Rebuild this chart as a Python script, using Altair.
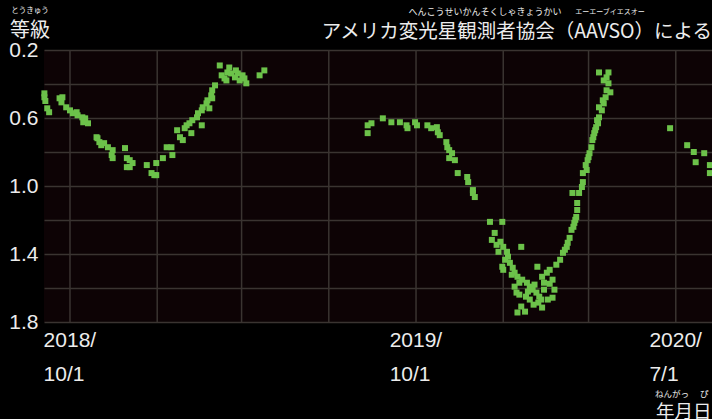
import altair as alt
import pandas as pd

# AAVSO visual magnitude estimates (date, magnitude)
obs_dates = [
    "2018-10-05", "2018-10-05", "2018-10-06", "2018-10-08", "2018-10-10",
    "2018-10-21", "2018-10-24", "2018-10-23", "2018-10-28", "2018-11-01",
    "2018-11-04", "2018-11-08", "2018-11-09", "2018-11-14", "2018-11-17",
    "2018-11-15", "2018-11-20", "2018-11-29", "2018-11-30", "2018-12-02",
    "2018-12-04", "2018-12-07", "2018-12-11", "2018-12-16", "2018-12-15",
    "2018-12-16", "2018-12-29", "2018-12-31", "2019-01-03", "2018-12-31",
    "2019-01-03", "2019-01-06", "2019-01-21", "2019-01-26", "2019-01-31",
    "2019-01-31", "2019-01-29", "2019-02-07", "2019-02-11", "2019-02-16",
    "2019-02-17", "2019-02-22", "2019-02-25", "2019-02-28", "2019-03-02",
    "2019-03-04", "2019-03-07", "2019-03-09", "2019-03-10", "2019-03-15",
    "2019-03-16", "2019-03-20", "2019-03-20", "2019-03-21", "2019-03-25",
    "2019-03-26", "2019-03-28", "2019-03-30", "2019-03-31", "2019-03-31",
    "2019-04-03", "2019-04-08", "2019-04-10", "2019-04-13", "2019-04-18",
    "2019-04-20", "2019-04-24", "2019-04-27", "2019-04-29", "2019-05-02",
    "2019-05-06", "2019-05-20", "2019-05-25", "2019-04-16", "2019-04-25",
    "2019-05-04", "2019-04-15",
    "2019-09-11", "2019-09-11", "2019-09-15", "2019-09-27", "2019-10-06",
    "2019-10-15", "2019-10-22", "2019-10-23", "2019-10-31", "2019-11-02",
    "2019-11-13", "2019-11-17", "2019-11-23", "2019-11-24", "2019-11-26",
    "2019-12-03", "2019-12-04", "2019-12-06", "2019-12-09", "2019-12-06",
    "2019-12-12", "2019-12-15", "2019-12-25", "2019-12-26", "2019-12-31",
    "2019-12-31", "2020-01-02", "2020-01-18", "2020-01-31", "2020-01-23",
    "2020-01-20", "2020-01-29", "2020-02-01", "2020-02-05", "2020-02-06",
    "2020-02-20", "2020-01-31", "2020-02-01", "2020-02-08", "2020-02-11",
    "2020-02-13", "2020-02-16", "2020-02-21", "2020-02-26", "2020-02-29",
    "2020-03-03", "2020-03-07", "2020-03-10", "2020-03-12", "2020-03-08",
    "2020-03-13", "2020-03-18", "2020-03-21", "2020-03-24", "2020-03-26",
    "2020-03-24", "2020-03-13", "2020-02-13", "2020-02-15", "2020-02-20",
    "2020-02-16", "2020-02-24", "2020-02-03", "2020-02-10", "2020-02-18",
    "2020-02-27", "2020-03-05", "2020-03-15", "2020-03-19", "2020-02-29",
    "2020-02-25", "2020-03-09", "2020-03-15", "2020-03-21", "2020-01-27",
    "2020-01-25", "2020-03-04", "2020-02-18",
    "2020-03-28", "2020-04-01", "2020-04-04", "2020-04-08", "2020-04-11",
    "2020-04-13", "2020-04-16", "2020-04-18", "2020-04-19", "2020-04-19",
    "2020-04-21", "2020-04-14", "2020-04-24", "2020-04-25", "2020-04-25",
    "2020-04-29", "2020-04-30", "2020-05-02", "2020-05-04", "2020-05-05",
    "2020-05-07", "2020-05-09", "2020-05-10", "2020-05-12", "2020-05-12",
    "2020-05-15", "2020-05-17", "2020-05-19", "2020-05-20", "2020-05-22",
    "2020-05-24", "2020-05-20", "2020-05-12", "2020-05-22", "2020-05-17",
    "2020-04-06", "2020-04-09", "2020-04-15", "2020-04-17", "2020-04-28",
    "2020-05-01", "2020-05-06", "2020-05-08", "2020-05-11", "2020-05-16",
    "2020-07-26", "2020-08-13", "2020-08-20", "2020-08-31", "2020-08-22",
    "2020-09-06", "2020-09-06",
]
obs_mags = [
    0.455, 0.478, 0.500, 0.543, 0.566,
    0.484, 0.478, 0.508, 0.537, 0.555,
    0.572, 0.566, 0.584, 0.596, 0.602,
    0.625, 0.631, 0.713, 0.719, 0.742,
    0.760, 0.748, 0.772, 0.789, 0.818,
    0.836, 0.777, 0.836, 0.848, 0.889,
    0.889, 0.865, 0.877, 0.924, 0.865,
    0.936, 0.936, 0.836, 0.772, 0.772,
    0.818, 0.672, 0.713, 0.730, 0.660,
    0.643, 0.631, 0.689, 0.613, 0.596,
    0.572, 0.555, 0.643, 0.537, 0.514,
    0.496, 0.543, 0.467, 0.437, 0.484,
    0.408, 0.291, 0.349, 0.367, 0.303,
    0.338, 0.361, 0.338, 0.379, 0.349,
    0.396, 0.349, 0.320, 0.332, 0.320,
    0.367, 0.379,
    0.643, 0.689, 0.631, 0.602, 0.625,
    0.625, 0.643, 0.660, 0.625, 0.643,
    0.643, 0.660, 0.654, 0.684, 0.701,
    0.742, 0.772, 0.789, 0.807, 0.836,
    0.848, 0.924, 0.947, 0.977, 1.024,
    1.041, 1.065, 1.211, 1.211, 1.276,
    1.317, 1.328, 1.358, 1.387, 1.416,
    1.358, 1.475, 1.493, 1.452, 1.481,
    1.510, 1.534, 1.551, 1.569, 1.592,
    1.610, 1.627, 1.651, 1.668, 1.475,
    1.534, 1.510, 1.493, 1.551, 1.610,
    1.657, 1.715, 1.592, 1.627, 1.709,
    1.744, 1.739, 1.434, 1.522, 1.569,
    1.621, 1.580, 1.610, 1.668, 1.668,
    1.651, 1.686, 1.569, 1.575, 1.387,
    1.346, 1.698, 1.639,
    1.463, 1.434, 1.393, 1.358, 1.305,
    1.258, 1.217, 1.182, 1.141, 1.100,
    1.041, 1.041, 1.006, 0.977, 0.924,
    0.906, 0.848, 0.807, 0.772, 0.730,
    0.689, 0.654, 0.613, 0.596, 0.537,
    0.555, 0.514, 0.478, 0.437, 0.396,
    0.449, 0.361, 0.332, 0.332, 0.379,
    1.375, 1.334, 1.240, 1.199, 0.877,
    0.830, 0.713, 0.672, 0.631, 0.496,
    0.660, 0.760, 0.800, 0.807, 0.860,
    0.877, 0.924,
]

# Vertical grid dates and x-axis labels
grid_dates = ["2018-11-01", "2019-02-01", "2019-05-01", "2019-08-01",
              "2019-11-01", "2020-02-01", "2020-05-01", "2020-08-01"]
tick_dates = ["2018-10-01", "2019-10-01", "2020-07-01"]
tick_labels = ["2018/\n10/1", "2019/\n10/1", "2020/\n7/1"]
y_ticks = [0.2, 0.4, 0.6, 0.8, 1.0, 1.2, 1.4, 1.6, 1.8]

points = pd.DataFrame({"date": obs_dates, "mag": obs_mags})
grid = pd.DataFrame({"date": grid_dates})
ticks = pd.DataFrame({"date": tick_dates, "label": tick_labels})

GRID = "#3a3431"
TEXT = "#ececec"
LATIN = "Liberation Sans"
CJK = "Noto Sans CJK JP"

x_scale = alt.Scale(
    type="utc",
    domain=[alt.DateTime(year=2018, month=10, date=4, hours=14, utc=True),
            alt.DateTime(year=2020, month=9, date=8, hours=5, utc=True)],
)
y_scale = alt.Scale(domain=[0.2, 1.8], reverse=True, nice=False, zero=False)

vgrid = alt.Chart(grid).mark_rule(color=GRID, strokeWidth=1.5).encode(
    x=alt.X("date:T", scale=x_scale, axis=None)
)

dots = alt.Chart(points).mark_point(
    shape="square", filled=True, size=36, color="#6cc24a", opacity=1
).encode(
    x=alt.X("date:T", scale=x_scale, axis=None),
    y=alt.Y(
        "mag:Q",
        scale=y_scale,
        axis=alt.Axis(
            values=y_ticks,
            title=None,
            domain=False,
            ticks=False,
            grid=True,
            gridColor=GRID,
            gridWidth=1.5,
            labelExpr="(round(datum.value*5) % 2 == 1) ? format(datum.value, '.1f') : ''",
            labelFont=LATIN,
            labelFontSize=21,
            labelColor=TEXT,
            labelPadding=6,
        ),
    ),
)

xlabels = alt.Chart(ticks).mark_text(
    align="left", baseline="top", font=LATIN, fontSize=21, color=TEXT,
    lineBreak="\n", lineHeight=34, dx=3,
).encode(
    x=alt.X("date:T", scale=x_scale, axis=None),
    y=alt.value(280),
    text="label:N",
)

one = alt.Data(values=[{}])


def label(text, x, y, size, align="left", font=CJK):
    return alt.Chart(one).mark_text(
        align=align, baseline="middle", font=font, fontSize=size, color=TEXT
    ).encode(x=alt.value(x), y=alt.value(y), text=alt.value(text))


titles = [
    label("等級", -34, -19, 20),
    label("とうきゅう", -14, -39, 7.5, align="center"),
    label("アメリカ変光星観測者協会（AAVSO）による", 668, -18, 19.5, align="right"),
    label("へんこうせいかんそくしゃきょうかい", 441, -38, 9, align="center"),
    label("エーエーブイエスオー", 566, -38, 7, align="center"),
    label("年月日", 612, 362, 18.5),
    label("ねんがっ", 611, 344, 8.5),
    label("ぴ", 656, 344, 8.5),
]

chart = alt.layer(vgrid, dots, xlabels, *titles).properties(
    width=668,
    height=272,
    autosize="none",
    padding={"left": 44, "top": 50, "right": 0, "bottom": 97},
    background="#000000",
).configure_view(stroke=None, fill="#0d0305")

chart.save("out.html", embed_options={"renderer": "svg", "actions": False})
